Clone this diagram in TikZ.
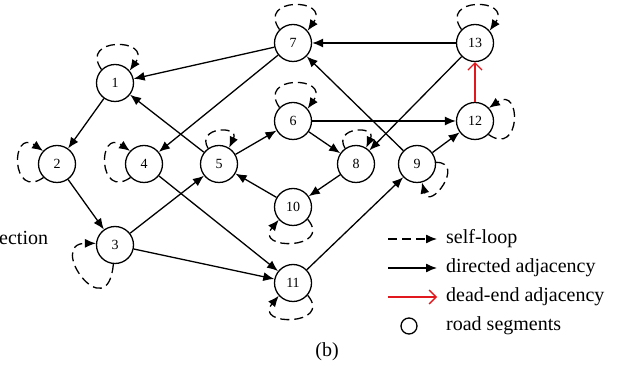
\documentclass[tikz,border=0pt]{standalone}
\usepackage{fontspec}
\setmainfont{Liberation Serif}
\usetikzlibrary{arrows.meta}
\definecolor{deadred}{RGB}{225,25,30}
\tikzset{
  seg/.style={circle, draw, line width=1.3pt, minimum size=37pt, inner sep=0pt, font=\fontsize{14}{14}\selectfont},
  adj/.style={line width=1.3pt, -{Latex[length=11pt,width=9pt]}},
  selfloop/.style={line width=1.3pt, dash pattern=on 9pt off 5pt, -{Latex[length=11pt,width=9pt]}},
  deadend/.style={line width=1.3pt, draw=deadred, -{Straight Barb[length=7pt,width=14pt,line width=1.3pt]}},
  legtext/.style={anchor=west, inner sep=0pt, font=\fontsize{20}{20}\selectfont},
}
\begin{document}
\begin{tikzpicture}[x=1pt,y=1pt]
\useasboundingbox (0,0) rectangle (628,366);
% nodes
\node[seg] (n1) at (115,283) {1};
\node[seg] (n2) at (57,202) {2};
\node[seg] (n3) at (115,121) {3};
\node[seg] (n4) at (144,202) {4};
\node[seg] (n5) at (219,202) {5};
\node[seg] (n6) at (293,245) {6};
\node[seg] (n7) at (293,323) {7};
\node[seg] (n8) at (356,202) {8};
\node[seg] (n9) at (417,202) {9};
\node[seg] (n10) at (293,159) {10};
\node[seg] (n11) at (293,83) {11};
\node[seg] (n12) at (475,245) {12};
\node[seg] (n13) at (475,323) {13};
% directed adjacency
\draw[adj] (n7) -- (n1);
\draw[adj] (n7) -- (n4);
\draw[adj] (n5) -- (n1);
\draw[adj] (n1) -- (n2);
\draw[adj] (n2) -- (n3);
\draw[adj] (n3) -- (n5);
\draw[adj] (n3) -- (n11);
\draw[adj] (n4) -- (n11);
\draw[adj] (n5) -- (n6);
\draw[adj] (n6) -- (n8);
\draw[adj] (n6) -- (n12);
\draw[adj] (n8) -- (n10);
\draw[adj] (n10) -- (n5);
\draw[adj] (n9) -- (n7);
\draw[adj] (n9) -- (n12);
\draw[adj] (n11) -- (n9);
\draw[adj] (n13) -- (n7);
\draw[adj] (n13) -- (n8);
% dead-end
\draw[deadend] (n12) -- (n13);
% self-loops
\foreach \n in {n1,n7,n6,n13}{
  \draw[selfloop] (\n.135) .. controls +(125:40) and +(55:40) .. (\n.40);
}
\foreach \n in {n5,n8}{
  \draw[selfloop] (\n.125) .. controls +(120:25) and +(65:25) .. (\n.58);
}
\foreach \n in {n2,n4}{
  \draw[selfloop] (\n.225) .. controls +(215:40) and +(145:40) .. (\n.137);
}
\foreach \n in {n10,n11}{
  \draw[selfloop] (\n.320) .. controls +(310:40) and +(230:40) .. (\n.222);
}
\draw[selfloop] (n3.265) .. controls +(265:65) and +(180:50) .. (n3.175);
\draw[selfloop] (n12.315) .. controls +(325:40) and +(35:40) .. (n12.43);
\draw[selfloop] (n9.5) .. controls +(0:30) and +(285:30) .. (n9.285);
% legend
\coordinate (l1a) at (388,127); \coordinate (l1b) at (437,127);
\coordinate (l2a) at (388,98);  \coordinate (l2b) at (437,98);
\coordinate (l3a) at (388,69);  \coordinate (l3b) at (437,69);
\draw[selfloop] (l1a) -- (l1b);
\draw[adj] (l2a) -- (l2b);
\draw[deadend] (l3a) -- (l3b);
\node[circle, draw, line width=1.3pt, minimum size=16pt, inner sep=0pt] (lc) at (409,40) {};
\node[legtext] (t1) at (446,127) {self-loop};
\node[legtext] (t2) at (446,98) {directed adjacency};
\node[legtext] (t3) at (446,69) {dead-end adjacency};
\node[legtext] (t4) at (446,40) {road segments};
\node[inner sep=0pt, font=\fontsize{20}{20}\selectfont] (cap) at (327,14) {(b)};
\node[legtext] (ect) at (-1,128) {ection};
\end{tikzpicture}
\end{document}
